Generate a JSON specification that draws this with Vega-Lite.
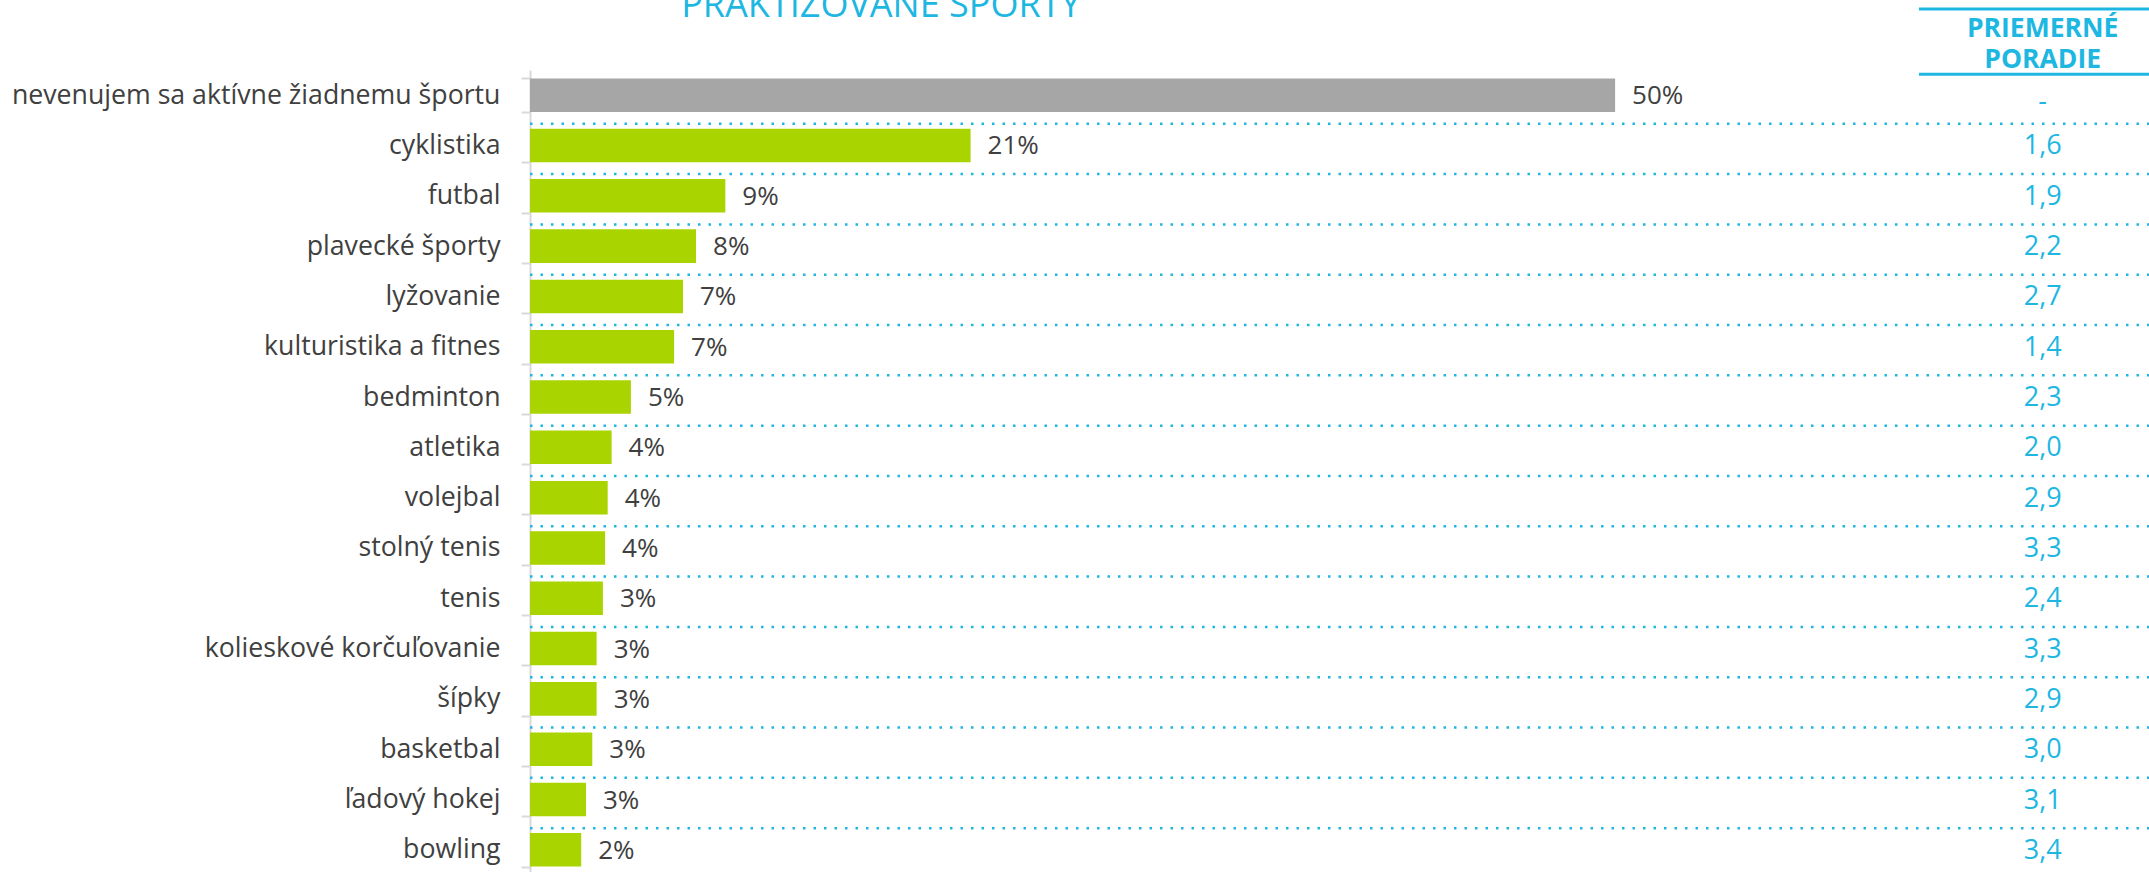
{
  "$schema": "https://vega.github.io/schema/vega-lite/v6.json",
  "width": 1619,
  "height": 805,
  "autosize": {"type": "none"},
  "padding": {"left": 530, "top": 70, "right": 0, "bottom": 0},
  "config": {"view": {"stroke": null}, "font": "Open Sans"},
  "data": {
    "values": [
      {"sport": "nevenujem sa aktívne žiadnemu športu", "value": 50, "label": "50%", "rank": "-"},
      {"sport": "cyklistika", "value": 20.3, "label": "21%", "rank": "1,6"},
      {"sport": "futbal", "value": 9.0, "label": "9%", "rank": "1,9"},
      {"sport": "plavecké športy", "value": 7.65, "label": "8%", "rank": "2,2"},
      {"sport": "lyžovanie", "value": 7.05, "label": "7%", "rank": "2,7"},
      {"sport": "kulturistika a fitnes", "value": 6.64, "label": "7%", "rank": "1,4"},
      {"sport": "bedminton", "value": 4.65, "label": "5%", "rank": "2,3"},
      {"sport": "atletika", "value": 3.76, "label": "4%", "rank": "2,0"},
      {"sport": "volejbal", "value": 3.58, "label": "4%", "rank": "2,9"},
      {"sport": "stolný tenis", "value": 3.46, "label": "4%", "rank": "3,3"},
      {"sport": "tenis", "value": 3.36, "label": "3%", "rank": "2,4"},
      {"sport": "kolieskové korčuľovanie", "value": 3.07, "label": "3%", "rank": "3,3"},
      {"sport": "šípky", "value": 3.07, "label": "3%", "rank": "2,9"},
      {"sport": "basketbal", "value": 2.87, "label": "3%", "rank": "3,0"},
      {"sport": "ľadový hokej", "value": 2.58, "label": "3%", "rank": "3,1"},
      {"sport": "bowling", "value": 2.36, "label": "2%", "rank": "3,4"}
    ]
  },
  "encoding": {
    "y": {
      "field": "sport",
      "type": "nominal",
      "sort": null,
      "scale": {"paddingInner": 0.333, "paddingOuter": 0.1667},
      "axis": {
        "title": null,
        "labelFontSize": 26.7,
        "labelColor": "#404040",
        "labelFont": "Open Sans",
        "labelPadding": 21,
        "labelLimit": 0,
        "tickSize": 9,
        "tickColor": "#D9D9D9",
        "tickWidth": 2,
        "tickBand": "extent",
        "domainColor": "#D9D9D9",
        "domainWidth": 2,
        "grid": false
      }
    }
  },
  "layer": [
    {
      "mark": {"type": "bar"},
      "encoding": {
        "x": {"field": "value", "type": "quantitative", "scale": {"domain": [0, 74.6], "nice": false}, "axis": null},
        "color": {"condition": {"test": "datum.value > 40", "value": "#A6A6A6"}, "value": "#AAD400"}
      }
    },
    {
      "mark": {"type": "text", "align": "left", "baseline": "middle", "dx": 17, "dy": 1, "fontSize": 26, "color": "#404040", "font": "Open Sans"},
      "encoding": {
        "x": {"field": "value", "type": "quantitative"},
        "text": {"field": "label"}
      }
    },
    {
      "transform": [{"filter": "datum.value < 40"}],
      "mark": {"type": "rule", "color": "#1DB7E2", "strokeWidth": 2.5, "strokeDash": [2.5, 8], "yOffset": -4.9},
      "encoding": {
        "y": {"field": "sport", "type": "nominal", "sort": null, "bandPosition": 0},
        "x": {"datum": 0},
        "x2": {"datum": 74.6}
      }
    },
    {
      "transform": [{"filter": "datum.value < 40"}],
      "mark": {"type": "text", "align": "center", "baseline": "middle", "dy": 1, "fontSize": 27, "color": "#1DB7E2", "font": "Open Sans"},
      "encoding": {
        "x": {"datum": 69.7},
        "text": {"field": "rank"}
      }
    },
    {
      "transform": [{"filter": "datum.value >= 40"}],
      "mark": {"type": "text", "align": "center", "baseline": "middle", "dy": 7, "fontSize": 27, "color": "#1DB7E2", "font": "Open Sans"},
      "encoding": {
        "x": {"datum": 69.7},
        "text": {"field": "rank"}
      }
    },
    {
      "data": {"values": [{"title": "PRAKTIZOVANÉ ŠPORTY"}]},
      "mark": {"type": "text", "align": "center", "baseline": "alphabetic", "yOffset": -61.7, "fontSize": 36, "color": "#1DB7E2", "font": "Open Sans"},
      "encoding": {
        "y": {"datum": "nevenujem sa aktívne žiadnemu športu", "type": "nominal", "bandPosition": 0},
        "x": {"datum": 16.17},
        "text": {"field": "title"}
      }
    },
    {
      "data": {"values": [{"header": "PRIEMERNÉ PORADIE"}]},
      "mark": {"type": "rule", "color": "#1DB7E2", "strokeWidth": 3, "yOffset": -69.4},
      "encoding": {
        "y": {"datum": "nevenujem sa aktívne žiadnemu športu", "type": "nominal", "bandPosition": 0},
        "x": {"datum": 64.0},
        "x2": {"datum": 74.6}
      }
    },
    {
      "data": {"values": [{"header": "PRIEMERNÉ PORADIE"}]},
      "mark": {"type": "rule", "color": "#1DB7E2", "strokeWidth": 3, "yOffset": -4.1},
      "encoding": {
        "y": {"datum": "nevenujem sa aktívne žiadnemu športu", "type": "nominal", "bandPosition": 0},
        "x": {"datum": 64.0},
        "x2": {"datum": 74.6}
      }
    },
    {
      "data": {"values": [{"header": "PRIEMERNÉ PORADIE"}]},
      "mark": {"type": "text", "align": "center", "baseline": "alphabetic", "yOffset": -41.1, "fontSize": 26.5, "fontWeight": "bold", "lineHeight": 31, "color": "#1DB7E2", "font": "Open Sans"},
      "encoding": {
        "y": {"datum": "nevenujem sa aktívne žiadnemu športu", "type": "nominal", "bandPosition": 0},
        "x": {"datum": 69.7},
        "text": {"value": ["PRIEMERNÉ", "PORADIE"]}
      }
    }
  ]
}
